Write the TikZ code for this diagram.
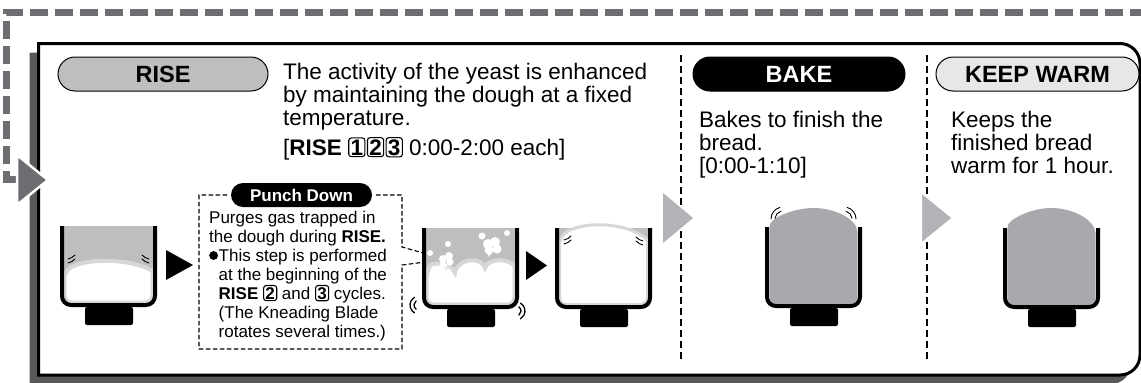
\documentclass[tikz,border=0pt]{standalone}
\usepackage{fontspec}
\setmainfont{Liberation Sans}
\usetikzlibrary{positioning}
\definecolor{frameg}{HTML}{6D6E71}
\definecolor{shadowg}{HTML}{58595B}
\definecolor{pillg}{HTML}{BCBEC0}
\definecolor{warmg}{HTML}{E6E7E8}
\definecolor{doughg}{HTML}{BCBEC0}
\definecolor{rimg}{HTML}{D6D7D9}
\definecolor{loafg}{HTML}{A7A9AC}
\definecolor{stepg}{HTML}{B1B3B6}

\tikzset{
  modepill/.style={draw, line width=1pt, rounded corners=17pt, minimum height=34pt,
    inner sep=0pt, font=\fontsize{23.5}{24}\selectfont\bfseries},
  punchpill/.style={fill=black, text=white, rounded corners=12pt, minimum width=141pt,
    minimum height=24pt, inner sep=0pt, font=\fontsize{17}{18}\selectfont\bfseries},
  bodytext/.style={anchor=base west, align=left, inner sep=0pt, font=\fontsize{22.5}{23}\selectfont},
  notetext/.style={anchor=base west, align=left, inner sep=0pt, font=\fontsize{17}{19}\selectfont},
  sepline/.style={line width=1.3pt, dash pattern=on 7pt off 4pt},
  wall/.style={line width=4pt, rounded corners=9pt},
  marks/.style={line width=0.9pt, line cap=round},
  bubble/.style={fill=white, draw=rimg, line width=0.6pt},
}

% boxed cycle number
\newcommand{\stepno}[1]{\tikz[baseline=(d.base)]\node[draw, line width=1.1pt, rounded corners=2.5pt,
  inner xsep=1.8pt, inner ysep=1.6pt, anchor=base, font=\bfseries] (d) {#1};}
% round bullet of the note
\newcommand{\notedot}{\makebox[9.5pt][l]{\tikz[baseline={(0pt,-5.5pt)}]\fill (4.4pt,0pt) circle (4.4pt);}}

% pan walls and base, top left of the walls at #1
\newcommand{\breadpan}[1]{%
  \begin{scope}[shift={#1}]
    \draw[wall] (0,0) -- (0,79) -- (93,79) -- (93,0);
    \fill[rounded corners=2pt] (23,81) rectangle (71,99);
  \end{scope}}

\begin{document}
\begin{tikzpicture}[x=1pt, y=-1pt]
  \useasboundingbox (0,0) rectangle (1141,383);

  % outer frame
  \draw[frameg, line width=7pt, dash pattern=on 18pt off 7pt] (16,179) -- (6,179) -- (6,12.5) -- (1150,12.5);
  \fill[shadowg] (29.5,52.5) -- (1111,52.5) arc[start angle=-90, end angle=0, radius=20]
    -- (1131,364) arc[start angle=0, end angle=90, radius=20] -- (29.5,384) -- cycle;
  \filldraw[fill=white, line width=3pt] (38.5,43.5) -- (1120,43.5) arc[start angle=-90, end angle=0, radius=20]
    -- (1140,355) arc[start angle=0, end angle=90, radius=20] -- (38.5,375) -- cycle;
  \filldraw[fill=frameg, draw=white, line width=2.5pt, line join=miter] (17,155) -- (48,180) -- (17,205) -- cycle;

  % separators and step arrows
  \draw[sepline] (681,55) -- (681,362);
  \fill[stepg] (663,193) -- (693,218) -- (663,243) -- cycle;
  \draw[sepline] (927,55) -- (927,362);
  \filldraw[fill=stepg, draw=white, line width=2pt] (921,192) -- (953,218) -- (921,244) -- cycle;

  % mode headers
  \node[modepill, fill=pillg, minimum width=210pt] (rise) at (163,74) {RISE};
  \node[modepill, fill=black, text=white, minimum width=212pt] (bake) at (799,74) {BAKE};
  \node[modepill, fill=warmg, minimum width=203pt] (warm) at (1037.5,74) {KEEP WARM};

  % multi-line texts sit on the baseline of their last line
  \node[bodytext] (risetext) at (283,125) {The activity of the yeast is enhanced\\by maintaining the dough at a fixed\\temperature.};
  \node[bodytext] (risetime) at (283,155) {[\textbf{RISE} \stepno{1}\hspace{1.5pt}\stepno{2}\hspace{1.5pt}\stepno{3} 0:00-2:00 each]};
  \node[bodytext] (baketext) at (699,173) {Bakes to finish the\\bread.\\{[0:00-1:10]}};
  \node[bodytext] (warmtext) at (951,173) {Keeps the\\finished bread\\warm for 1 hour.};

  % punch down callout
  \draw[line width=1.1pt, dash pattern=on 4.5pt off 2.5pt] (376,195) -- (402,195) -- (402,247) -- (441,258)
    (441,260) -- (402,265) -- (402,349) -- (199,349) -- (199,195) -- (227,195);
  \node[punchpill] (punch) at (301.5,195) {Punch Down};
  \node[notetext] (punchtext) at (209,337) {Purges gas trapped in\\the dough during \textbf{RISE.}\\\notedot This step is performed\\
    \hspace*{9.5pt}at the beginning of the\\\hspace*{9.5pt}\textbf{RISE} \stepno{2} and \stepno{3} cycles.\\
    \hspace*{9.5pt}(The Kneading Blade\\\hspace*{9.5pt}rotates several times.)};

  % rising dough
  \begin{scope}[shift={(62,226)}]
    \fill[doughg, rounded corners=9pt] (0,0) -- (0,79) -- (93,79) -- (93,0);
    \begin{scope}
      \clip[rounded corners=9pt] (0,0) -- (0,79) -- (93,79) -- (93,0);
      \filldraw[fill=white, draw=rimg, line width=4pt] (2.5,45) .. controls (25,32) and (68,32) .. (90.5,45)
        [rounded corners=7pt] -- (90.5,76.5) -- (2.5,76.5) -- cycle;
    \end{scope}
    \draw[marks] (6,33) to[bend right=15] (13,29) (6,37) to[bend right=15] (13,33);
    \draw[marks] (80,29) to[bend right=15] (87,33) (80,33) to[bend right=15] (87,37);
  \end{scope}
  \breadpan{(62,226)}

  % punching down
  \begin{scope}[shift={(424,228)}]
    \fill[doughg, rounded corners=9pt] (0,0) -- (0,79) -- (93,79) -- (93,0);
    \begin{scope}
      \clip[rounded corners=9pt] (0,0) -- (0,79) -- (93,79) -- (93,0);
      \filldraw[fill=white, draw=rimg, line width=4pt] (2.5,43) .. controls (8,35) and (26,33) .. (31,45)
        .. controls (33,30) and (58,28) .. (61,40) .. controls (64,30) and (84,30) .. (90.5,38)
        [rounded corners=7pt] -- (90.5,76.5) -- (2.5,76.5) -- cycle;
    \end{scope}
    \draw[bubble] (20,36) -- (22,42) -- (24,36);
    \fill[white] (19,31) circle (4) (25,28) circle (4) (26,34) circle (3.5) (19,36) circle (3);
    \draw[bubble] (64,29) -- (64,23) -- (68,25);
    \fill[white] (64,16) circle (5) (71,14) circle (5) (73,21) circle (4.5) (65,22) circle (4.5);
    \fill[white] (24,16) circle (3) (6,25) circle (3) (58,8) circle (3.5) (83,5) circle (3);
    \draw[marks, line width=1.3pt] (-5,77) ++(125:5) arc[start angle=125, end angle=235, radius=5]
      (-5,77) ++(120:9) arc[start angle=120, end angle=240, radius=9];
    \draw[marks, line width=1.3pt] (92,83) ++(-55:5) arc[start angle=-55, end angle=55, radius=5]
      (92,83) ++(-60:9) arc[start angle=-60, end angle=60, radius=9];
  \end{scope}
  \breadpan{(424,228)}

  % risen dough
  \begin{scope}[shift={(557,228)}]
    \fill[doughg, rounded corners=9pt] (0,0) -- (0,79) -- (93,79) -- (93,0);
    \begin{scope}
      \clip[rounded corners=9pt] (0,-20) -- (0,79) -- (93,79) -- (93,-20);
      \filldraw[fill=white, draw=rimg, line width=3pt] (2.5,10) .. controls (22,-7) and (71,-7) .. (90.5,12)
        [rounded corners=7pt] -- (90.5,76.5) -- (2.5,76.5) -- cycle;
    \end{scope}
    \draw[marks] (7,12) to[bend right=15] (14,8) (7,16) to[bend right=15] (14,12);
    \draw[marks] (79,9) to[bend right=15] (86,13) (79,13) to[bend right=15] (86,17);
  \end{scope}
  \breadpan{(557,228)}

  % baking loaf
  \begin{scope}[shift={(767,227)}]
    \fill[loafg] (2.5,5) .. controls (3,-8) and (25,-19) .. (46.5,-19) .. controls (68,-19) and (90,-8) .. (90.5,5)
      [rounded corners=7pt] -- (90.5,77) -- (2.5,77) -- cycle;
    \draw[marks] (16,-8) ++(185:8) arc[start angle=185, end angle=255, radius=8]
      (16,-8) ++(180:12) arc[start angle=180, end angle=255, radius=12];
    \draw[marks] (77,-8) ++(-5:8) arc[start angle=-5, end angle=-75, radius=8]
      (77,-8) ++(0:12) arc[start angle=0, end angle=-75, radius=12];
  \end{scope}
  \breadpan{(767,227)}

  % loaf kept warm
  \begin{scope}[shift={(1005,228)}]
    \fill[loafg] (2.5,5) .. controls (3,-8) and (25,-20) .. (46.5,-20) .. controls (68,-20) and (90,-8) .. (90.5,5)
      [rounded corners=7pt] -- (90.5,77) -- (2.5,77) -- cycle;
  \end{scope}
  \breadpan{(1005,228)}

  % process arrows
  \fill (166,250) -- (193,265) -- (166,280) -- cycle;
  \fill (526,251) -- (547,265.5) -- (526,280) -- cycle;
\end{tikzpicture}
\end{document}
